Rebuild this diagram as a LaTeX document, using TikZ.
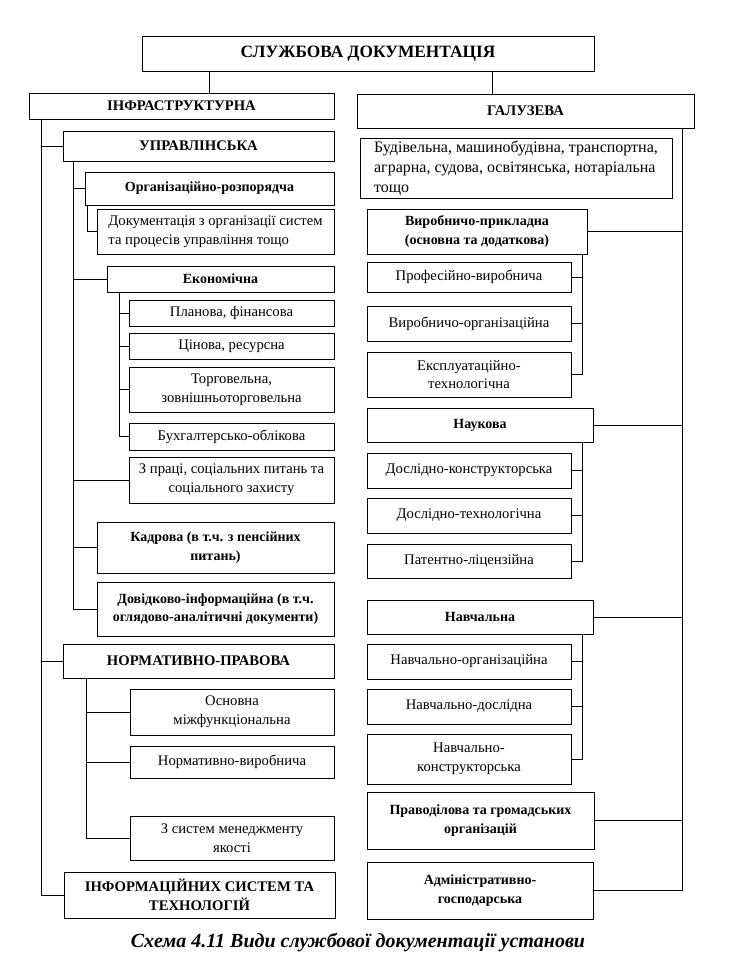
\documentclass[tikz,border=0pt]{standalone}
\usepackage{fontspec}
\setmainfont{Liberation Serif}
\usepackage{tikz}

\begin{document}
\begin{tikzpicture}[x=0.75pt, y=-0.75pt, font=\fontsize{11}{14}\selectfont,
        box/.style={draw, rectangle, inner sep=0pt, line width=0.6pt, align=center},
        sz/.style 2 args={minimum width=#1*0.75pt, minimum height=#2*0.75pt},
        head/.style={box, font=\fontsize{10.5}{14}\selectfont\bfseries},
        caps/.style={box, font=\fontsize{11}{14}\selectfont\bfseries},
        link/.style={line width=0.6pt}]
        \useasboundingbox (0,0) rectangle (728,963);

        % top
        \node (title) [box, sz={452}{35}, font=\fontsize{13}{15}\selectfont\bfseries] at (368,53.5) {СЛУЖБОВА ДОКУМЕНТАЦІЯ};
        \node (infra) [caps, sz={305}{26}] at (181.5,106) {ІНФРАСТРУКТУРНА};
        \node (galuz) [caps, sz={337}{34}] at (525.5,111) {ГАЛУЗЕВА};

        % infrastructure side
        \node (upr) [caps, sz={271}{30}] at (198.5,146) {УПРАВЛІНСЬКА};
        \node (org) [head, sz={249}{33}] at (209.5,188.5) {Організаційно-розпорядча};
        \node (doc) [box, sz={237}{45}, align=left] at (215.5,231.5) {Документація з організації систем\\та процесів управління тощо};
        \node (ekon) [head, sz={227}{26}] at (220.5,279) {Економічна};
        \node (plan) [box, sz={205}{26}] at (231.5,313) {Планова, фінансова};
        \node (cin) [box, sz={205}{26}] at (231.5,346) {Цінова, ресурсна};
        \node (torg) [box, sz={205}{45}] at (231.5,389.5) {Торговельна,\\зовнішньоторговельна};
        \node (buh) [box, sz={205}{27}] at (231.5,436.5) {Бухгалтерсько-облікова};
        \node (prac) [box, sz={205}{46}] at (231.5,480) {З праці, соціальних питань та\\соціального захисту};
        \node (kadr) [head, sz={237}{51}] at (215.5,547.5) {Кадрова (в т.ч. з пенсійних\\питань)};
        \node (dovid) [head, sz={237}{54}] at (215.5,609) {Довідково-інформаційна (в т.ч.\\оглядово-аналітичні документи)};
        \node (norm) [caps, sz={271}{34}] at (198.5,661) {НОРМАТИВНО-ПРАВОВА};
        \node (osn) [box, sz={204}{46}] at (232,712) {Основна\\міжфункціональна};
        \node (nvyr) [box, sz={204}{32}] at (232,762) {Нормативно-виробнича};
        \node (smy) [box, sz={204}{44}] at (232,838) {З систем менеджменту\\якості};
        \node (info) [caps, sz={271}{46}] at (199.5,895) {ІНФОРМАЦІЙНИХ СИСТЕМ ТА\\ТЕХНОЛОГІЙ};

        % branch side
        \node (bud) [box, sz={312}{60}, align=left, font=\fontsize{12}{15}\selectfont] at (516,168) {Будівельна, машинобудівна, транспортна,\\аграрна, судова, освітянська, нотаріальна\\тощо};
        \node (vyrob) [head, sz={220}{45}] at (477,231.5) {Виробничо-прикладна\\(основна та додаткова)};
        \node (prof) [box, sz={204}{30}] at (469,277) {Професійно-виробнича};
        \node (vorg) [box, sz={204}{35}] at (469,323.5) {Виробничо-організаційна};
        \node (expl) [box, sz={204}{45}] at (469,374.5) {Експлуатаційно-\\технологічна};
        \node (nauk) [head, sz={226}{34}] at (480,425) {Наукова};
        \node (dkon) [box, sz={204}{35}] at (469,470.5) {Дослідно-конструкторська};
        \node (dtex) [box, sz={204}{35}] at (469,515.5) {Дослідно-технологічна};
        \node (pat) [box, sz={204}{34}] at (469,561) {Патентно-ліцензійна};
        \node (navch) [head, sz={226}{34}] at (480,617) {Навчальна};
        \node (norg) [box, sz={204}{35}] at (469,661.5) {Навчально-організаційна};
        \node (ndos) [box, sz={204}{35}] at (469,706.5) {Навчально-дослідна};
        \node (nkon) [box, sz={204}{50}] at (469,759) {Навчально-\\конструкторська};
        \node (prav) [head, sz={227}{57}] at (480.5,820.5) {Праводілова та громадських\\організацій};
        \node (adm) [head, sz={226}{57}] at (480,890.5) {Адміністративно-\\господарська};

        \node (cap) [font=\fontsize{15}{17}\selectfont\bfseries\itshape] at (358,942) {Схема 4.11 Види службової документації установи};

        % trunk positions
        \coordinate (tl) at (209,0);
        \coordinate (tr) at (492,0);
        \coordinate (ta) at (41,0);
        \coordinate (tb) at (73,0);
        \coordinate (tc) at (87,0);
        \coordinate (td) at (119,0);
        \coordinate (te) at (86,0);
        \coordinate (tf) at (682,0);
        \coordinate (tg) at (582,0);

        \draw[link] (title.south -| tl) -- (infra.north -| tl);
        \draw[link] (title.south -| tr) -- (galuz.north -| tr);

        \draw[link] (infra.south -| ta) |- (upr.west);
        \draw[link] (infra.south -| ta) |- (norm.west);
        \draw[link] (infra.south -| ta) |- (info.west);

        \draw[link] (upr.south -| tb) |- (org.west);
        \draw[link] (upr.south -| tb) |- (ekon.west);
        \draw[link] (upr.south -| tb) |- (prac.west);
        \draw[link] (upr.south -| tb) |- (kadr.west);
        \draw[link] (upr.south -| tb) |- (dovid.west);
        \draw[link] (org.south -| tc) |- (doc.west);

        \draw[link] (ekon.south -| td) |- (plan.west);
        \draw[link] (ekon.south -| td) |- (cin.west);
        \draw[link] (ekon.south -| td) |- (torg.west);
        \draw[link] (ekon.south -| td) |- (buh.west);

        \draw[link] (norm.south -| te) |- (osn.west);
        \draw[link] (norm.south -| te) |- (nvyr.west);
        \draw[link] (norm.south -| te) |- (smy.west);

        \draw[link] (galuz.south -| tf) |- (vyrob.east);
        \draw[link] (galuz.south -| tf) |- (nauk.east);
        \draw[link] (galuz.south -| tf) |- (navch.east);
        \draw[link] (galuz.south -| tf) |- (prav.east);
        \draw[link] (galuz.south -| tf) |- (adm.east);

        \draw[link] (vyrob.south -| tg) |- (prof.east);
        \draw[link] (vyrob.south -| tg) |- (vorg.east);
        \draw[link] (vyrob.south -| tg) |- (expl.east);
        \draw[link] (nauk.south -| tg) |- (dkon.east);
        \draw[link] (nauk.south -| tg) |- (dtex.east);
        \draw[link] (nauk.south -| tg) |- (pat.east);
        \draw[link] (navch.south -| tg) |- (norg.east);
        \draw[link] (navch.south -| tg) |- (ndos.east);
        \draw[link] (navch.south -| tg) |- (nkon.east);
    \end{tikzpicture}
\end{document}
